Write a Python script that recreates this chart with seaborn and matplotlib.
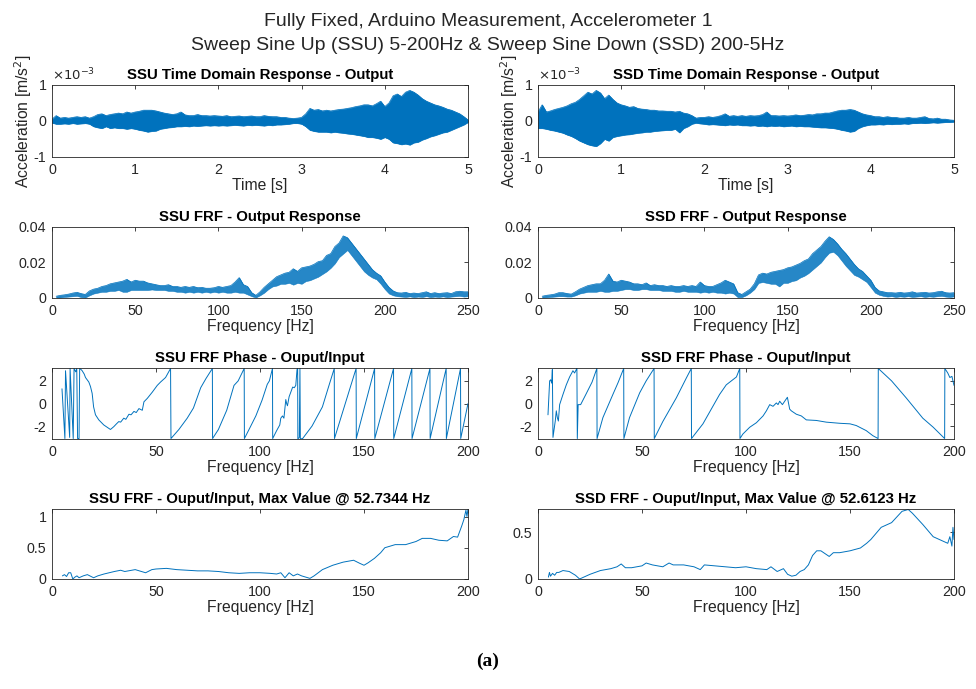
import numpy as np
import matplotlib
matplotlib.use("Agg")
import matplotlib.pyplot as plt
import seaborn as sns

# ---- time domain envelopes (x1e-3 m/s^2), sampled every 0.05 s ----
t_env = np.linspace(0, 5, 101)
ssu_hi = [0.05, 0.15, 0.08, 0.10, 0.08, 0.10, 0.12, 0.10, 0.12, 0.08,
          0.12, 0.18, 0.20, 0.15, 0.18, 0.20, 0.22, 0.20, 0.25, 0.22,
          0.25, 0.27, 0.30, 0.30, 0.30, 0.28, 0.25, 0.22, 0.20, 0.18,
          0.20, 0.25, 0.17, 0.15, 0.15, 0.18, 0.15, 0.15, 0.14, 0.15,
          0.14, 0.13, 0.15, 0.12, 0.13, 0.14, 0.12, 0.13, 0.14, 0.12,
          0.12, 0.15, 0.13, 0.12, 0.12, 0.10, 0.10, 0.08, 0.07, 0.08,
          0.10, 0.20, 0.35, 0.30, 0.32, 0.28, 0.30, 0.28, 0.30, 0.32,
          0.33, 0.35, 0.37, 0.40, 0.42, 0.45, 0.45, 0.42, 0.48, 0.55,
          0.40, 0.50, 0.70, 0.75, 0.68, 0.80, 0.85, 0.80, 0.72, 0.62,
          0.55, 0.50, 0.45, 0.42, 0.38, 0.33, 0.30, 0.25, 0.20, 0.12,
          0.03]
ssu_lo = [-0.05, -0.08, -0.08, -0.07, -0.08, -0.06, -0.08, -0.07, -0.06, -0.08,
          -0.15, -0.18, -0.20, -0.15, -0.20, -0.18, -0.20, -0.20, -0.22, -0.20,
          -0.22, -0.25, -0.27, -0.30, -0.28, -0.27, -0.22, -0.20, -0.18, -0.17,
          -0.15, -0.15, -0.14, -0.15, -0.13, -0.14, -0.13, -0.12, -0.13, -0.12,
          -0.13, -0.12, -0.13, -0.12, -0.11, -0.12, -0.13, -0.11, -0.12, -0.11,
          -0.12, -0.13, -0.11, -0.12, -0.10, -0.10, -0.09, -0.08, -0.06, -0.06,
          -0.08, -0.15, -0.25, -0.28, -0.30, -0.30, -0.30, -0.32, -0.30, -0.32,
          -0.33, -0.35, -0.36, -0.38, -0.40, -0.42, -0.45, -0.45, -0.47, -0.50,
          -0.45, -0.50, -0.60, -0.62, -0.65, -0.63, -0.66, -0.60, -0.58, -0.52,
          -0.48, -0.43, -0.40, -0.36, -0.32, -0.30, -0.25, -0.20, -0.15, -0.10,
          -0.03]
ssd_hi = [0.25, 0.45, 0.25, 0.28, 0.32, 0.35, 0.38, 0.42, 0.48, 0.52,
          0.60, 0.70, 0.80, 0.75, 0.85, 0.78, 0.62, 0.72, 0.60, 0.50,
          0.45, 0.42, 0.38, 0.40, 0.35, 0.33, 0.32, 0.30, 0.30, 0.28,
          0.28, 0.27, 0.27, 0.25, 0.27, 0.22, 0.20, 0.15, 0.08, 0.10,
          0.10, 0.12, 0.10, 0.12, 0.15, 0.20, 0.13, 0.15, 0.13, 0.15,
          0.13, 0.15, 0.14, 0.15, 0.18, 0.25, 0.15, 0.15, 0.14, 0.15,
          0.14, 0.15, 0.17, 0.15, 0.16, 0.18, 0.17, 0.20, 0.20, 0.22,
          0.22, 0.25, 0.28, 0.30, 0.30, 0.32, 0.30, 0.25, 0.20, 0.17,
          0.15, 0.12, 0.12, 0.10, 0.12, 0.10, 0.10, 0.08, 0.08, 0.10,
          0.08, 0.08, 0.10, 0.12, 0.07, 0.06, 0.08, 0.05, 0.05, 0.03,
          0.02]
ssd_lo = [-0.20, -0.20, -0.22, -0.25, -0.27, -0.30, -0.33, -0.38, -0.42, -0.48,
          -0.55, -0.60, -0.65, -0.68, -0.70, -0.62, -0.50, -0.55, -0.45, -0.42,
          -0.40, -0.38, -0.37, -0.35, -0.33, -0.32, -0.30, -0.30, -0.28, -0.27,
          -0.26, -0.25, -0.25, -0.22, -0.32, -0.20, -0.15, -0.08, -0.05, -0.07,
          -0.08, -0.10, -0.09, -0.10, -0.11, -0.12, -0.10, -0.11, -0.10, -0.12,
          -0.12, -0.13, -0.12, -0.14, -0.13, -0.15, -0.13, -0.14, -0.13, -0.15,
          -0.14, -0.13, -0.15, -0.14, -0.15, -0.15, -0.16, -0.17, -0.18, -0.18,
          -0.19, -0.20, -0.22, -0.25, -0.27, -0.30, -0.28, -0.20, -0.15, -0.12,
          -0.10, -0.10, -0.09, -0.10, -0.08, -0.09, -0.08, -0.08, -0.07, -0.08,
          -0.06, -0.06, -0.05, -0.06, -0.05, -0.04, -0.05, -0.04, -0.03, -0.03,
          -0.02]

# ---- FRF output response envelopes (x1e-3), every 2.5 Hz ----
f_out = np.linspace(2.5, 250, 100)
ssu_out_hi = [1.0, 1.5, 1.8, 2.2, 2.8, 3.2, 2.5, 2.0, 4.0, 5.0,
              5.5, 6.5, 7.0, 8.0, 8.5, 9.0, 9.5, 10.5, 9.0, 10.0,
              9.5, 9.5, 8.5, 8.0, 7.5, 7.0, 7.0, 7.5, 6.5, 6.5,
              6.0, 6.5, 6.0, 6.5, 5.8, 6.0, 5.5, 5.5, 5.8, 6.5,
              6.0, 6.5, 7.0, 9.0, 11.5, 7.5, 6.5, 3.0, 1.5, 3.5,
              6.0, 8.0, 10.0, 12.0, 13.0, 14.0, 14.5, 16.5, 15.0, 17.0,
              17.5, 18.0, 19.0, 20.5, 21.0, 24.0, 25.0, 29.0, 31.0, 35.0,
              34.0, 31.0, 28.0, 25.0, 22.0, 19.0, 16.0, 14.0, 12.5, 9.0,
              6.0, 4.0, 3.0, 2.8, 3.2, 2.5, 2.8, 2.5, 3.0, 3.5,
              2.5, 3.0, 2.5, 2.8, 3.0, 2.5, 3.5, 3.8, 3.5, 3.5]
ssu_out_lo = [0.3, 0.3, 0.6, 0.8, 1.0, 1.2, 0.5, 0.3, 1.5, 2.5,
              3.0, 3.5, 3.5, 4.0, 4.0, 4.5, 3.5, 3.5, 4.5, 4.5,
              4.5, 4.5, 4.5, 4.8, 4.5, 4.5, 4.5, 4.0, 4.0, 3.5,
              3.5, 3.0, 3.5, 3.0, 3.5, 3.0, 3.5, 3.0, 3.5, 3.0,
              3.5, 3.0, 3.0, 3.5, 3.0, 3.0, 2.0, 1.0, 0.3, 1.5,
              3.0, 5.0, 6.5, 7.0, 8.0, 8.0, 8.5, 7.5, 8.5, 8.0,
              9.5, 10.0, 11.0, 12.0, 13.5, 15.0, 17.0, 19.5, 23.0, 25.0,
              27.0, 24.0, 21.0, 18.0, 15.0, 13.0, 11.5, 10.5, 8.0, 5.0,
              2.5, 1.5, 1.0, 0.8, 0.6, 0.9, 0.5, 0.8, 0.6, 1.0,
              0.5, 0.8, 0.6, 0.9, 0.5, 0.8, 1.0, 1.2, 0.8, 1.0]
ssd_out_hi = [1.0, 1.5, 1.8, 2.2, 3.0, 3.0, 2.5, 2.2, 3.5, 5.0,
              6.0, 7.0, 7.5, 8.0, 8.0, 10.0, 13.5, 9.5, 9.0, 10.0,
              9.5, 9.0, 8.0, 8.0, 7.5, 8.5, 7.0, 7.5, 7.0, 7.0,
              6.5, 7.0, 6.5, 6.5, 7.0, 6.5, 7.0, 6.5, 9.0, 7.0,
              6.5, 6.5, 7.5, 8.5, 10.0, 9.0, 8.0, 3.0, 2.0, 3.5,
              5.0, 8.0, 13.0, 14.0, 13.5, 14.5, 15.0, 15.5, 16.0, 17.0,
              17.5, 18.5, 19.5, 21.0, 22.0, 25.0, 27.0, 29.0, 32.0, 34.5,
              33.0, 30.5, 27.5, 25.0, 22.0, 19.0, 16.5, 15.0, 12.5, 10.0,
              6.0, 4.0, 3.5, 3.0, 3.0, 2.8, 3.2, 2.8, 3.0, 3.5,
              2.8, 3.0, 3.2, 2.8, 3.0, 3.5, 3.8, 3.0, 2.8, 3.0]
ssd_out_lo = [0.3, 0.4, 0.6, 0.8, 1.0, 1.0, 0.8, 0.8, 1.5, 2.5,
              3.0, 3.5, 3.5, 3.5, 4.0, 3.5, 3.5, 4.0, 4.0, 4.5,
              5.0, 5.0, 4.5, 4.5, 5.0, 5.0, 4.5, 4.5, 4.5, 4.0,
              4.0, 4.0, 3.5, 3.5, 4.0, 3.5, 3.5, 3.5, 3.0, 3.5,
              3.0, 3.5, 3.0, 3.0, 2.5, 3.0, 2.5, 0.5, 0.5, 1.5,
              3.0, 5.0, 8.5, 9.0, 8.5, 8.0, 8.0, 6.5, 8.5, 8.5,
              9.5, 10.0, 11.5, 12.5, 14.0, 16.0, 18.0, 20.0, 23.0, 25.5,
              26.0, 24.0, 21.0, 18.0, 15.5, 13.0, 12.0, 10.5, 9.0, 6.0,
              3.0, 1.8, 1.2, 0.8, 1.0, 0.6, 0.9, 0.7, 1.0, 0.6,
              0.8, 1.0, 0.6, 0.9, 0.7, 1.0, 1.2, 0.8, 0.6, 0.9]

# ---- FRF phase (rad) ----
ssu_ph_f = [4.8, 6.2, 6.5, 8.5, 8.7, 10.2, 10.6, 11.4, 11.9, 12.3, 13.0, 13.3, 14.0,
            14.5, 15.5, 16.1, 17.7, 18.5, 19.3, 20.0, 20.9, 22.5, 24.9, 27.3, 28.1,
            29.7, 31.0, 32.1, 33.0, 34.5, 35.5, 37.0, 38.0, 39.4, 40.5, 41.8, 43.4,
            44.2, 45.8, 48.2, 50.6, 52.2, 54.6, 57.0,
            57.2, 61.0, 65.0, 68.0, 71.5, 74.0, 77.1,
            77.2, 80.0, 84.0, 87.5, 89.5, 92.4,
            92.5, 95.0, 98.0, 101.0, 103.5, 104.5, 106.0,
            106.1, 108.0, 109.5, 110.0, 110.8, 111.5, 112.4, 112.8, 113.2, 114.0,
            115.7, 116.5, 117.2, 117.8, 118.1,
            118.2, 118.9, 119.2, 119.4, 120.5, 125.0, 130.0, 133.0, 135.7,
            135.8, 146.2, 146.3, 155.1, 155.2, 164.2, 164.3, 173.0, 173.1, 181.7,
            181.8, 189.5, 189.6, 196.4, 196.5, 200.0]
ssu_ph = [1.3, -3.1, 2.9, -3.0, 3.1, -3.1, 3.1, 2.8, 3.1, -3.1, -3.1, 3.1, 3.0,
          2.9, 2.6, 2.3, 1.9, 1.5, 0.9, -0.3, -1.0, -1.45, -1.9, -2.2, -2.3,
          -2.05, -1.8, -1.6, -1.65, -1.3, -1.4, -0.95, -1.0, -0.7, -0.8, -0.45, -0.6,
          0.15, 0.45, 1.0, 1.6, 1.9, 2.3, 3.1,
          -3.1, -2.3, -1.3, -0.4, 1.4, 2.2, 3.1,
          -3.1, -2.3, -0.6, 1.6, 2.0, 3.1,
          -3.1, -2.2, -1.1, 0.3, 1.7, 2.0, 3.1,
          -3.1, -2.4, -1.9, -1.3, -1.1, -1.3, 0.35, 0.0, -0.2, 0.6,
          1.45, 1.4, 1.6, 3.0, 3.14,
          -3.14, -3.0, 3.14, -3.14, -3.1, -2.0, -0.3, 1.5, 3.1,
          -3.1, 3.1, -3.1, 3.1, -3.1, 3.1, -3.1, 3.1, -3.1, 3.1,
          -3.1, 3.1, -3.1, 3.1, -3.1, 0.0]
ssd_ph_f = [4.8, 5.6, 6.1, 6.6, 6.9, 7.2, 8.3, 8.8, 9.3, 9.8, 10.4, 12.0, 13.6,
            15.2, 16.8, 17.6, 18.4, 18.7,
            18.9, 19.3, 20.5, 23.0, 26.0, 28.3,
            28.4, 31.2, 36.0, 38.5, 41.2,
            41.3, 44.0, 48.9, 52.0, 55.8,
            55.9, 60.0, 66.5, 71.3, 73.7,
            73.8, 79.3, 87.3, 90.5, 95.4, 97.0,
            97.1, 98.5, 101.8, 105.0, 108.2, 109.8, 111.4, 113.0, 114.6, 115.4,
            116.2, 117.5, 118.6, 119.9, 121.0, 121.8, 124.2, 126.6, 129.0, 133.8,
            138.6, 145.0, 150.0, 153.0, 157.8, 161.0, 163.5,
            163.6, 170.0, 177.0, 185.0, 190.0, 195.5,
            195.6, 197.0, 198.0, 199.0, 200.0]
ssd_ph = [-1.0, 2.0, 2.1, 1.8, 3.0, -3.0, -1.55, -0.65, -1.25, -1.55, -0.1, 0.8, 1.65,
          2.35, 2.9, 2.7, 3.0, 3.1,
          -3.1, -0.1, -0.1, 0.8, 1.9, 3.1,
          -3.1, -1.25, 0.8, 1.85, 3.1,
          -3.1, -1.25, 0.95, 2.0, 3.1,
          -3.1, -1.6, 0.5, 2.25, 3.1,
          -3.1, -1.8, 0.8, 1.65, 2.35, 3.1,
          -3.1, -2.7, -2.1, -1.7, -1.1, -0.65, -0.1, -0.25, 0.05, -0.1,
          0.2, -0.1, 0.2, 0.55, -0.5, -0.65, -0.95, -1.1, -1.45, -1.5,
          -1.65, -1.75, -1.8, -1.95, -2.4, -2.85, -3.1,
          3.1, 2.0, 0.5, -1.3, -2.1, -3.1,
          3.1, 2.7, 2.3, 2.4, 1.6]

# ---- FRF magnitude output/input ----
ssu_mag_f = [5, 6, 7, 8, 9, 10, 11, 12, 13, 15, 17, 20, 22, 25, 30, 33, 35, 40, 43,
             45, 48, 50, 55, 60, 65, 70, 75, 80, 85, 90, 95, 100, 105, 108, 110, 112,
             114, 116, 118, 120, 122, 124, 126, 130, 135, 140, 145, 148, 150, 152, 155,
             158, 160, 165, 170, 175, 178, 182, 186, 190, 193, 195, 197, 198, 199,
             199.5, 200]
ssu_mag = [0.05, 0.07, 0.04, 0.10, 0.10, 0.00, 0.03, 0.05, 0.02, 0.05, 0.07, 0.02,
           0.05, 0.08, 0.12, 0.14, 0.12, 0.15, 0.12, 0.10, 0.15, 0.16, 0.17, 0.15,
           0.14, 0.13, 0.13, 0.12, 0.10, 0.09, 0.10, 0.10, 0.09, 0.08, 0.10, 0.02,
           0.10, 0.05, 0.08, 0.05, 0.03, 0.01, 0.05, 0.15, 0.22, 0.27, 0.30, 0.25,
           0.22, 0.26, 0.33, 0.42, 0.50, 0.55, 0.55, 0.60, 0.65, 0.65, 0.62, 0.61,
           0.68, 0.67, 0.85, 0.95, 1.10, 1.00, 1.12]
ssd_mag_f = [5, 5.5, 6, 7, 8, 9, 10, 12, 15, 18, 20, 22, 25, 30, 35, 38, 40, 42, 45,
             50, 52, 55, 60, 63, 65, 70, 75, 78, 80, 85, 90, 95, 100, 105, 110, 112,
             115, 118, 120, 122, 124, 126, 128, 130, 132, 134, 136, 138, 140, 142,
             145, 150, 155, 158, 160, 165, 170, 175, 178, 180, 185, 190, 193, 195,
             197, 198, 199, 199.5, 200]
ssd_mag = [0.02, 0.07, 0.03, 0.06, 0.04, 0.07, 0.07, 0.09, 0.08, 0.04, 0.00, 0.02,
           0.05, 0.09, 0.11, 0.13, 0.16, 0.12, 0.12, 0.14, 0.17, 0.15, 0.13, 0.17,
           0.15, 0.15, 0.13, 0.10, 0.15, 0.14, 0.13, 0.12, 0.13, 0.11, 0.10, 0.13,
           0.08, 0.11, 0.05, 0.03, 0.04, 0.08, 0.10, 0.15, 0.25, 0.30, 0.30, 0.27,
           0.24, 0.28, 0.28, 0.30, 0.33, 0.38, 0.42, 0.55, 0.60, 0.72, 0.74, 0.70,
           0.58, 0.45, 0.42, 0.40, 0.38, 0.45, 0.35, 0.55, 0.42]

BLUE = "#0072BD"
INK = "#262626"

sns.set_theme(style="white")
plt.rcParams["font.family"] = ["Liberation Sans", "DejaVu Sans"]
plt.rcParams["axes.edgecolor"] = INK
plt.rcParams["axes.linewidth"] = 0.6
plt.rcParams["axes.unicode_minus"] = False
plt.rcParams["xtick.color"] = INK
plt.rcParams["ytick.color"] = INK

fig = plt.figure(figsize=(9.76, 6.89), dpi=100)

lefts = [52 / 976, 538 / 976]
width = 416 / 976
rows = [(85, 157), (227, 298), (368, 439), (509, 579)]


def make_ax(col, row):
    top, bot = rows[row]
    ax = fig.add_axes([lefts[col], 1 - bot / 689, width, (bot - top) / 689])
    ax.tick_params(direction="in", top=True, right=True, length=3, width=0.6,
                   labelsize=10.3, pad=4, colors=INK)
    for s in ax.spines.values():
        s.set_visible(True)
        s.set_color(INK)
    return ax


def style(ax, title, xlabel):
    ax.set_title(title, fontsize=10.8, fontweight="bold", color="black", pad=4)
    ax.set_xlabel(xlabel, fontsize=11.3, color=INK, labelpad=1)


# row 1: time domain
for col, (hi, lo, name) in enumerate([(ssu_hi, ssu_lo, "SSU"), (ssd_hi, ssd_lo, "SSD")]):
    ax = make_ax(col, 0)
    ax.fill_between(t_env, lo, hi, color=BLUE, linewidth=0.5, edgecolor=BLUE)
    sns.lineplot(x=t_env, y=hi, ax=ax, color=BLUE, linewidth=0.5, estimator=None)
    sns.lineplot(x=t_env, y=lo, ax=ax, color=BLUE, linewidth=0.5, estimator=None)
    ax.set_xlim(0, 5)
    ax.set_ylim(-1, 1)
    ax.set_yticks([-1, 0, 1])
    ax.set_xticks([0, 1, 2, 3, 4, 5])
    style(ax, f"{name} Time Domain Response - Output", "Time [s]")
    ax.set_ylabel("Acceleration [m/s$^2$]", fontsize=11.3, color=INK, labelpad=0)
    ax.text(0.0, 1.02, r"$\times10^{-3}$", transform=ax.transAxes, fontsize=9.5,
            color=INK, ha="left", va="bottom")

# row 2: FRF output response
for col, (hi, lo, name) in enumerate([(ssu_out_hi, ssu_out_lo, "SSU"),
                                      (ssd_out_hi, ssd_out_lo, "SSD")]):
    ax = make_ax(col, 1)
    hi = np.array(hi) * 1e-3
    lo = np.array(lo) * 1e-3
    ax.fill_between(f_out, lo, hi, color=BLUE, linewidth=0.4, edgecolor=BLUE, alpha=0.85)
    sns.lineplot(x=f_out, y=hi, ax=ax, color=BLUE, linewidth=0.5, estimator=None)
    ax.set_xlim(0, 250)
    ax.set_ylim(0, 0.04)
    ax.set_yticks([0, 0.02, 0.04])
    ax.set_yticklabels(["0", "0.02", "0.04"])
    ax.set_xticks([0, 50, 100, 150, 200, 250])
    style(ax, f"{name} FRF - Output Response", "Frequency [Hz]")

# row 3: phase
for col, (f, ph, name) in enumerate([(ssu_ph_f, ssu_ph, "SSU"), (ssd_ph_f, ssd_ph, "SSD")]):
    ax = make_ax(col, 2)
    sns.lineplot(x=f, y=ph, ax=ax, color=BLUE, linewidth=0.7, estimator=None, sort=False)
    ax.set_xlim(0, 200)
    ax.set_ylim(-np.pi, np.pi)
    ax.set_yticks([-2, 0, 2])
    ax.set_xticks([0, 50, 100, 150, 200])
    style(ax, f"{name} FRF Phase - Ouput/Input", "Frequency [Hz]")

# row 4: magnitude
mags = [(ssu_mag_f, ssu_mag, "SSU", "52.7344", 1.12, [0, 0.5, 1], ["0", "0.5", "1"]),
        (ssd_mag_f, ssd_mag, "SSD", "52.6123", 0.745, [0, 0.5], ["0", "0.5"])]
for col, (f, m, name, fmax, ytop, yt, ytl) in enumerate(mags):
    ax = make_ax(col, 3)
    sns.lineplot(x=f, y=m, ax=ax, color=BLUE, linewidth=0.7, estimator=None, sort=False)
    ax.set_xlim(0, 200)
    ax.set_ylim(0, ytop)
    ax.set_yticks(yt)
    ax.set_yticklabels(ytl)
    ax.set_xticks([0, 50, 100, 150, 200])
    style(ax, f"{name} FRF - Ouput/Input, Max Value @ {fmax} Hz", "Frequency [Hz]")

fig.text(0.5, 1 - 21 / 689, "Fully Fixed, Arduino Measurement, Accelerometer 1",
         ha="center", va="center", fontsize=14, color=INK)
fig.text(0.5, 1 - 45 / 689,
         "Sweep Sine Up (SSU) 5-200Hz & Sweep Sine Down (SSD) 200-5Hz",
         ha="center", va="center", fontsize=14, color=INK)
fig.text(0.5, 1 - 661 / 689, "(a)", ha="center", va="center", fontsize=14,
         fontweight="bold", family=["Liberation Serif", "DejaVu Serif"], color="black")

fig.savefig("out.png", dpi=100)
